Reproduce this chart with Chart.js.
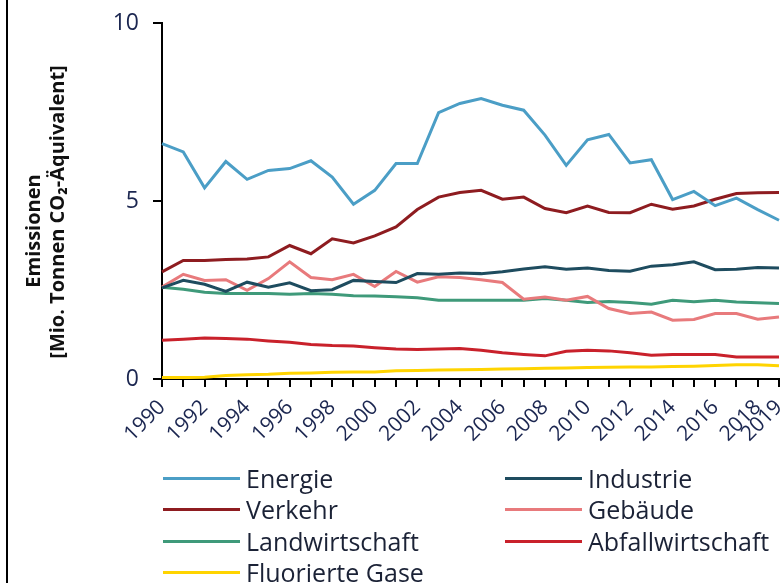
<!DOCTYPE html>
<html lang="de">
<head>
<meta charset="utf-8">
<title>Emissionen nach Sektoren</title>
<script src="https://cdn.jsdelivr.net/npm/chart.js@4"></script>
<style>
  html, body { margin: 0; padding: 0; background: #fff; }
  #wrap { position: relative; width: 783px; height: 583px; overflow: hidden; }
  #frame { position: absolute; left: 6px; top: 0; width: 2px; height: 583px; background: #000; }
  #legend { position: absolute; left: 0; top: 0; width: 783px; height: 583px; pointer-events: none;
            font-family: "Open Sans", sans-serif; font-size: 25px; color: #1b2236; }
  .legend-item { position: absolute; display: flex; align-items: center; white-space: nowrap; }
  .legend-line { display: inline-block; width: 77px; height: 3px; margin-right: 6px; }
</style>
</head>
<body>
<div id="wrap">
  <canvas id="chart" width="783" height="583"></canvas>
  <div id="frame"></div>
  <div id="legend"></div>
</div>
<script>
"use strict";

// ── Data (Mio. Tonnen CO2-Äquivalent) ──────────────────────────────────
const years = [
  "1990","1991","1992","1993","1994","1995","1996","1997","1998","1999",
  "2000","2001","2002","2003","2004","2005","2006","2007","2008","2009",
  "2010","2011","2012","2013","2014","2015","2016","2017","2018","2019"
];
// Only these years get a label under the axis.
const labelledYears = [
  "1990","1992","1994","1996","1998","2000","2002","2004","2006","2008",
  "2010","2012","2014","2016","2018","2019"
];
const yTicks = [0, 5, 10];

const energie = [6.61, 6.38, 5.37, 6.11, 5.61, 5.86, 5.91, 6.13, 5.67, 4.91,
                 5.30, 6.05, 6.05, 7.48, 7.74, 7.88, 7.69, 7.55, 6.85, 6.00,
                 6.72, 6.87, 6.07, 6.16, 5.04, 5.27, 4.87, 5.08, 4.76, 4.46];
const industrie = [2.56, 2.77, 2.66, 2.46, 2.72, 2.58, 2.70, 2.48, 2.51, 2.77,
                   2.74, 2.71, 2.96, 2.94, 2.98, 2.96, 3.01, 3.09, 3.15, 3.08,
                   3.12, 3.05, 3.03, 3.17, 3.21, 3.29, 3.07, 3.08, 3.13, 3.12];
const verkehr = [3.01, 3.33, 3.33, 3.36, 3.37, 3.43, 3.75, 3.52, 3.94, 3.82,
                 4.02, 4.27, 4.76, 5.11, 5.24, 5.30, 5.05, 5.11, 4.79, 4.67,
                 4.86, 4.68, 4.67, 4.91, 4.77, 4.86, 5.05, 5.21, 5.23, 5.24];
const gebaeude = [2.58, 2.94, 2.77, 2.79, 2.49, 2.82, 3.29, 2.85, 2.79, 2.94,
                  2.60, 3.02, 2.72, 2.87, 2.85, 2.79, 2.71, 2.24, 2.30, 2.21,
                  2.32, 1.98, 1.84, 1.88, 1.65, 1.67, 1.84, 1.84, 1.68, 1.74];
const landwirtschaft = [2.58, 2.52, 2.44, 2.40, 2.40, 2.40, 2.38, 2.40, 2.38, 2.34,
                        2.33, 2.31, 2.28, 2.21, 2.21, 2.21, 2.21, 2.21, 2.26, 2.21,
                        2.15, 2.18, 2.15, 2.10, 2.21, 2.17, 2.21, 2.16, 2.14, 2.12];
const abfallwirtschaft = [1.09, 1.12, 1.15, 1.14, 1.12, 1.07, 1.03, 0.97, 0.94, 0.93,
                          0.88, 0.84, 0.83, 0.84, 0.86, 0.81, 0.74, 0.69, 0.65, 0.78,
                          0.81, 0.79, 0.74, 0.67, 0.69, 0.69, 0.69, 0.62, 0.62, 0.62];
const fluorierteGase = [0.04, 0.04, 0.05, 0.10, 0.12, 0.13, 0.16, 0.17, 0.19, 0.20,
                        0.20, 0.23, 0.24, 0.25, 0.26, 0.27, 0.28, 0.29, 0.30, 0.31,
                        0.32, 0.33, 0.34, 0.34, 0.35, 0.36, 0.38, 0.40, 0.40, 0.37];

// ── Series styling ─────────────────────────────────────────
const series = [
  { label: "Energie",          data: energie,          color: "#4b9ec6" },
  { label: "Industrie",        data: industrie,        color: "#1e4c5f" },
  { label: "Verkehr",          data: verkehr,          color: "#8e1c20" },
  { label: "Gebäude",          data: gebaeude,         color: "#e87a7c" },
  { label: "Landwirtschaft",   data: landwirtschaft,   color: "#3f9a7a" },
  { label: "Abfallwirtschaft", data: abfallwirtschaft, color: "#c9212b" },
  { label: "Fluorierte Gase",  data: fluorierteGase,   color: "#ffd400" },
];

const FONT = '"Open Sans", sans-serif';
const TICK_COLOR = "#1b2650";

/** Draw the two-line y axis title by hand so it sits where the original has it. */
const yTitlePlugin = {
  id: "yTitle",
  afterDraw(chart) {
    const ctx = chart.ctx;
    ctx.save();
    ctx.fillStyle = "#111";
    ctx.font = `bold 20px ${FONT}`;
    ctx.textAlign = "center";
    ctx.textBaseline = "middle";
    const lines = [
      { text: "Emissionen", x: 34, y: 231 },
      { text: "[Mio. Tonnen CO₂-Äquivalent]", x: 58, y: 212 },
    ];
    for (const l of lines) {
      ctx.save();
      ctx.translate(l.x, l.y);
      ctx.rotate(-Math.PI / 2);
      ctx.fillText(l.text, 0, 0);
      ctx.restore();
    }
    ctx.restore();
  },
};

new Chart(document.getElementById("chart"), {
  type: "line",
  data: {
    labels: years,
    datasets: series.map((s) => ({
      label: s.label,
      data: s.data,
      borderColor: s.color,
      backgroundColor: s.color,
      borderWidth: 3,
      tension: 0,
      pointRadius: 0,
      fill: false,
    })),
  },
  options: {
    responsive: false,
    animation: false,
    layout: { padding: { left: 8, right: 4, top: 23, bottom: 0 } },
    plugins: { legend: { display: false }, tooltip: { enabled: false } },
    scales: {
      x: {
        offset: false,
        afterFit: (scale) => {
          scale.height = 204;
          // keep the rotated labels from shrinking the plot on the right
          scale.paddingLeft = 0;
          scale.paddingRight = 0;
        },
        border: { display: true, color: "#000", width: 2 },
        grid: { display: true, drawOnChartArea: false, drawTicks: true, tickLength: 8, color: "#000", lineWidth: 2 },
        ticks: {
          autoSkip: false,
          minRotation: 45,
          maxRotation: 45,
          padding: 8,
          color: TICK_COLOR,
          font: { family: FONT, size: 21 },
          callback: (v, i) => (labelledYears.includes(years[i]) ? years[i] : ""),
        },
      },
      y: {
        min: yTicks[0],
        max: yTicks[yTicks.length - 1],
        afterFit: (scale) => {
          scale.width = 154;
          scale.paddingTop = 0;
          scale.paddingBottom = 0;
        },
        afterBuildTicks: (scale) => { scale.ticks = yTicks.map((v) => ({ value: v })); },
        border: { display: true, color: "#000", width: 2 },
        grid: { display: true, drawOnChartArea: false, drawTicks: true, tickLength: 9, color: "#000", lineWidth: 2 },
        ticks: { padding: 14, color: TICK_COLOR, font: { family: FONT, size: 23 } },
      },
    },
  },
  plugins: [yTitlePlugin],
});

// ── Legend: two columns, filled row by row ─────────────────
function renderLegend() {
  const el = document.getElementById("legend");
  const colX = [163, 505];
  const rowY = [478, 509, 541, 572];
  el.innerHTML = series.map((s, i) => {
    const x = colX[i % 2];
    const y = rowY[Math.floor(i / 2)];
    return `<span class="legend-item" style="left:${x}px;top:${y - 16}px;height:32px">` +
      `<span class="legend-line" style="background:${s.color}"></span>${s.label}</span>`;
  }).join("");
}
renderLegend();
</script>
</body>
</html>
